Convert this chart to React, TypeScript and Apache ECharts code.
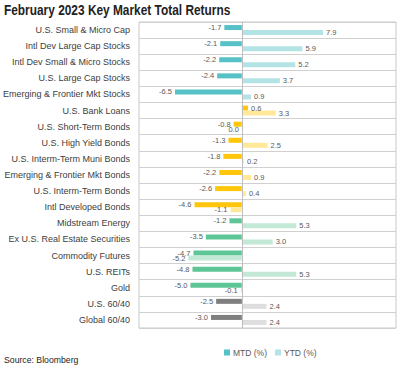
import React, { useEffect, useRef } from "react";
import * as echarts from "echarts";

const categories = [
  "U.S. Small & Micro Cap",
  "Intl Dev Large Cap Stocks",
  "Intl Dev Small & Micro Stocks",
  "U.S. Large Cap Stocks",
  "Emerging & Frontier Mkt Stocks",
  "U.S. Bank Loans",
  "U.S. Short-Term Bonds",
  "U.S. High Yield Bonds",
  "U.S. Interm-Term Muni Bonds",
  "Emerging & Frontier Mkt Bonds",
  "U.S. Interm-Term Bonds",
  "Intl Developed Bonds",
  "Midstream Energy",
  "Ex U.S. Real Estate Securities",
  "Commodity Futures",
  "U.S. REITs",
  "Gold",
  "U.S. 60/40",
  "Global 60/40",
];

const mtd = [-1.7, -2.1, -2.2, -2.4, -6.5, 0.6, -0.8, -1.3, -1.8, -2.2, -2.6, -4.6, -1.2, -3.5, -4.7, -4.8, -5.0, -2.5, -3.0];
const ytd = [7.9, 5.9, 5.2, 3.7, 0.9, 3.3, 0.0, 2.5, 0.2, 0.9, 0.4, -1.1, 5.3, 3.0, -5.2, 5.3, -0.1, 2.4, 2.4];

// group index per category: 0 equities, 1 bonds, 2 real assets, 3 balanced
const groups = [0, 0, 0, 0, 0, 1, 1, 1, 1, 1, 1, 1, 2, 2, 2, 2, 2, 3, 3];
const mtdColors = ["#56c1c6", "#ffc60b", "#5ec596", "#7f7f7f"];
const ytdColors = ["#b4e3e6", "#ffe999", "#c3e9d6", "#dedede"];

const SANS = "'Liberation Sans', Arial, sans-serif";

function makeData(values: number[], colors: string[]) {
  return values.map((v, i) => ({
    value: v,
    itemStyle: { color: colors[groups[i]] },
    label: { position: v > 0 ? "right" : "left" },
  }));
}

export default function App() {
  const ref = useRef<HTMLDivElement>(null);
  useEffect(() => {
    if (!ref.current) return;
    const chart = echarts.init(ref.current, undefined, { renderer: "svg" });
    const labelStyle = {
      show: true,
      fontFamily: SANS,
      fontSize: 7.5,
      color: "#595959",
      distance: 3,
      formatter: (p: any) => Number(p.value).toFixed(1),
    };
    chart.setOption({
      animation: false,
      legend: {
        data: ["MTD (%)", "YTD (%)"],
        left: 219,
        top: 343,
        icon: "rect",
        itemWidth: 6,
        itemHeight: 6,
        itemGap: 8,
        textStyle: { fontFamily: SANS, fontSize: 8.5, color: "#595959", padding: [0, 0, 0, -2] },
      },
      grid: {
        left: 136,
        right: 5,
        top: 22,
        bottom: 40,
        show: true,
        borderColor: "#c8c8c8",
        borderWidth: 1,
        containLabel: false,
      },
      xAxis: {
        type: "value",
        min: -10,
        max: 15,
        axisLabel: { show: false },
        axisLine: { show: false },
        axisTick: { show: false },
        splitLine: { show: false },
      },
      yAxis: {
        type: "category",
        data: categories,
        inverse: true,
        axisLine: { show: false },
        axisTick: { show: false },
        splitLine: { show: true, lineStyle: { color: "#d0d0d0", width: 1 } },
        axisLabel: { fontFamily: SANS, fontSize: 9, color: "#404040", margin: 9 },
      },
      graphic: [
        {
          type: "text",
          x: 4,
          y: 3,
          scaleX: 0.82,
          style: {
            text: "February 2023 Key Market Total Returns",
            fontFamily: SANS,
            fontSize: 14.5,
            fontWeight: "bold",
            fill: "#222222",
          },
        },
        {
          type: "text",
          left: 4,
          top: 355,
          style: { text: "Source: Bloomberg", fontFamily: SANS, fontSize: 8.7, fill: "#222222" },
        },
      ],
      series: [
        {
          name: "MTD (%)",
          type: "bar",
          barWidth: 5,
          barGap: "0%",
          itemStyle: { color: mtdColors[0] },
          label: labelStyle,
          data: makeData(mtd, mtdColors),
          markLine: {
            silent: true,
            symbol: "none",
            label: { show: false },
            lineStyle: { color: "#bfbfbf", type: "solid", width: 1 },
            data: [{ xAxis: 0 }],
          },
        },
        {
          name: "YTD (%)",
          type: "bar",
          barWidth: 5,
          barGap: "0%",
          itemStyle: { color: ytdColors[0] },
          label: labelStyle,
          data: makeData(ytd, ytdColors),
        },
      ],
    });
    return () => chart.dispose();
  }, []);
  return <div ref={ref} style={{ width: 401, height: 368, position: "absolute", left: 0, top: 0 }} />;
}
